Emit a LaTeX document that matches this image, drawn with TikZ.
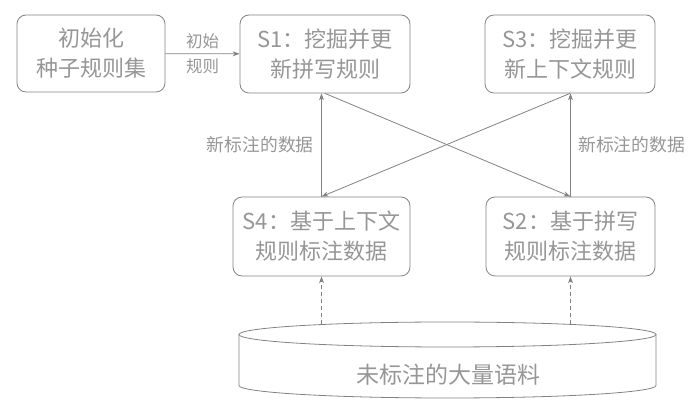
\documentclass[tikz,border=0pt]{standalone}
\usepackage{fontspec}
\setmainfont{Noto Sans CJK SC}
\usepackage{tikz}
\usetikzlibrary{arrows.meta}
\definecolor{txtgray}{RGB}{150,150,150}
\definecolor{lngray}{RGB}{130,130,130}
\tikzset{
  stepbox/.style = {draw=lngray,rounded corners=9pt,thick,align=center,
                    text=txtgray,font=\fontsize{22}{30}\selectfont,inner sep=0pt},
  flowarr/.style = {-{Stealth[length=7pt,width=5pt]},lngray,thick},
  dasharr/.style = {flowarr,dash pattern=on 4pt off 3pt},
  lbl/.style     = {text=txtgray,font=\fontsize{16.5}{22}\selectfont}
}

\begin{document}
\begin{tikzpicture}[x=1pt,y=1pt]
  \useasboundingbox (0,0) rectangle (698,414);
  % boxes
  \node[stepbox,minimum width=148pt,minimum height=77pt] (init) at (91,360.5)
        {初始化\\种子规则集};
  \node[stepbox,minimum width=170pt,minimum height=78pt] (s1) at (325,360)
        {S1：挖掘并更\\新拼写规则};
  \node[stepbox,minimum width=170pt,minimum height=78pt] (s3) at (570,360)
        {S3：挖掘并更\\新上下文规则};
  \node[stepbox,minimum width=177pt,minimum height=79pt] (s4) at (321.5,177.5)
        {S4：基于上下文\\规则标注数据};
  \node[stepbox,minimum width=169pt,minimum height=79pt] (s2) at (570.5,177.5)
        {S2：基于拼写\\规则标注数据};
  % corpus
  \draw[lngray,thick] (239,79.5) -- (239,28.5)
        arc[start angle=180,end angle=360,x radius=208.5,y radius=12.5]
        -- (656,79.5);
  \draw[lngray,thick] (447.5,79.5) ellipse[x radius=208.5,y radius=12.5];
  \node[text=txtgray,font=\fontsize{23}{28}\selectfont] (corpus) at (448,39)
        {未标注的大量语料};
  \coordinate (ctop) at (447.5,89.5);
  % arrows
  \draw[flowarr] (init) -- node[lbl,above=1pt]{初始} node[lbl,below=1pt]{规则} (s1);
  \draw[flowarr] (s4.north) -- (s4.north |- s1.south)
        node[lbl,left=4pt,pos=0.5,font=\fontsize{17.8}{22}\selectfont] {新标注的数据};
  \draw[flowarr] (s2.north) -- (s2.north |- s3.south)
        node[lbl,right=4pt,pos=0.5,font=\fontsize{17.8}{22}\selectfont] {新标注的数据};
  \draw[flowarr] (s1.south) -- (s2.north);
  \draw[flowarr] (s3.south) -- (s4.north);
  \draw[dasharr] (s4.south |- ctop) -- (s4.south);
  \draw[dasharr] (s2.south |- ctop) -- (s2.south);
\end{tikzpicture}
\end{document}
